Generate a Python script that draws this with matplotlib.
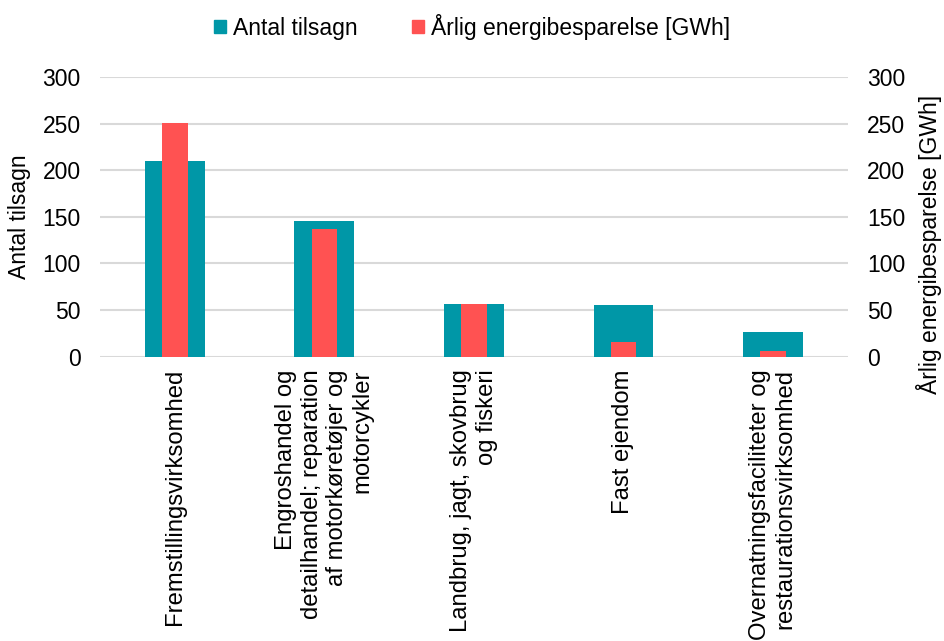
import numpy as np
import matplotlib.pyplot as plt
from matplotlib.patches import Patch

plt.rcParams['font.family'] = ['Liberation Sans', 'DejaVu Sans']

kategorier = [
    'Fremstillingsvirksomhed',
    'Engroshandel og\ndetailhandel; reparation\naf motorkøretøjer og\nmotorcykler',
    'Landbrug, jagt, skovbrug\nog fiskeri',
    'Fast ejendom',
    'Overnatningsfaciliteter og\nrestaurationsvirksomhed',
]
antal_tilsagn = [210, 146, 56, 55, 26]
energibesparelse = [251, 137, 57, 16, 6]

teal = '#0097A7'
roed = '#FF5252'
grid_col = '#D9D9D9'
fs = 16.5

fig = plt.figure(figsize=(9.44, 6.41), dpi=100)
ax = fig.add_axes([0.106, 0.4435, 0.792, 0.4365])
ax2 = ax.twinx()

x = np.arange(len(kategorier))
ax.bar(x, antal_tilsagn, width=0.4, color=teal, zorder=2)
ax2.bar(x, energibesparelse, width=0.17, color=roed, zorder=3)

for a in (ax, ax2):
    a.set_ylim(0, 300)
    a.set_yticks(range(0, 301, 50))
    a.tick_params(axis='y', length=0, labelsize=fs, pad=14)
    for s in a.spines.values():
        s.set_visible(False)
ax.set_xlim(-0.5, len(kategorier) - 0.5)
ax.grid(axis='y', color=grid_col, linewidth=1.5, zorder=0)
ax.set_axisbelow(True)
ax.tick_params(axis='x', length=0, pad=9)
ax.set_xticks(x)
ax.set_xticklabels(kategorier, rotation=90, fontsize=17.2, ha='center', va='top',
                   multialignment='right', linespacing=1.2)

ax.set_ylabel('Antal tilsagn', fontsize=fs, labelpad=8)
ax2.set_ylabel('Årlig energibesparelse [GWh]', fontsize=fs)
ax2.yaxis.set_label_coords(1.092, 0.40)

handles = [Patch(color=teal, label='Antal tilsagn'),
           Patch(color=roed, label='Årlig energibesparelse [GWh]')]
fig.legend(handles=handles, loc='center', bbox_to_anchor=(0.5, 0.958), ncol=2,
           frameon=False, fontsize=fs, handlelength=0.5, handleheight=0.5,
           handletextpad=0.3, columnspacing=2.4)

fig.savefig('out.png', dpi=100)
